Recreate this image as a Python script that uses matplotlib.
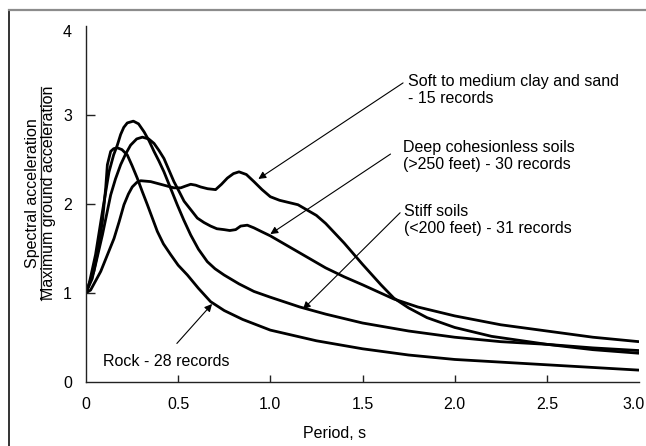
import matplotlib.pyplot as plt
from matplotlib.lines import Line2D
from matplotlib.transforms import ScaledTranslation

plt.rcParams['font.family'] = ['Liberation Sans', 'DejaVu Sans']

# Spectral shape curves (period in s, Sa / PGA)
rock_x = [0, 0.034, 0.061, 0.089, 0.107, 0.116, 0.134, 0.15, 0.17, 0.195, 0.224, 0.25,
          0.278, 0.305, 0.333, 0.36, 0.387, 0.42, 0.459, 0.5, 0.55, 0.61, 0.676, 0.75,
          0.85, 1.0, 1.25, 1.5, 1.75, 2.0, 2.25, 2.5, 2.75, 3.0]
rock_y = [1.0, 1.16, 1.43, 1.80, 2.18, 2.44, 2.59, 2.62, 2.63, 2.61, 2.55, 2.43,
          2.29, 2.14, 1.99, 1.84, 1.69, 1.55, 1.43, 1.31, 1.20, 1.05, 0.90, 0.80,
          0.70, 0.58, 0.46, 0.37, 0.30, 0.25, 0.22, 0.19, 0.16, 0.13]

stiff_x = [0, 0.016, 0.052, 0.089, 0.125, 0.15, 0.17, 0.188, 0.205, 0.224, 0.257, 0.285,
           0.315, 0.342, 0.369, 0.396, 0.423, 0.46, 0.495, 0.53, 0.568, 0.61, 0.658, 0.7,
           0.749, 0.83, 0.911, 1.0, 1.16, 1.3, 1.5, 1.75, 2.0, 2.25, 2.5, 2.75, 3.0]
stiff_y = [1.0, 1.09, 1.43, 1.91, 2.36, 2.55, 2.66, 2.78, 2.86, 2.91, 2.93, 2.90,
           2.81, 2.71, 2.59, 2.48, 2.36, 2.17, 1.99, 1.82, 1.65, 1.49, 1.35, 1.27,
           1.20, 1.10, 1.015, 0.95, 0.84, 0.76, 0.66, 0.57, 0.50, 0.45, 0.42, 0.38, 0.35]

deep_x = [0, 0.007, 0.043, 0.089, 0.134, 0.16, 0.188, 0.215, 0.242, 0.275, 0.306, 0.34,
          0.369, 0.396, 0.423, 0.45, 0.477, 0.505, 0.532, 0.57, 0.604, 0.64, 0.676, 0.71,
          0.749, 0.78, 0.812, 0.839, 0.875, 0.911, 0.95, 1.0, 1.1, 1.2, 1.3, 1.4, 1.5,
          1.67, 1.8, 2.0, 2.25, 2.5, 2.75, 3.0]
deep_y = [1.0, 1.05, 1.24, 1.65, 2.10, 2.28, 2.44, 2.56, 2.66, 2.73, 2.75, 2.73,
          2.68, 2.60, 2.51, 2.38, 2.25, 2.14, 2.03, 1.93, 1.84, 1.79, 1.75, 1.72,
          1.71, 1.70, 1.71, 1.75, 1.76, 1.73, 1.69, 1.64, 1.52, 1.40, 1.28, 1.18, 1.09,
          0.93, 0.84, 0.74, 0.64, 0.57, 0.50, 0.45]

clay_x = [0, 0.025, 0.08, 0.115, 0.152, 0.18, 0.206, 0.23, 0.251, 0.275, 0.297, 0.351,
          0.423, 0.477, 0.514, 0.54, 0.568, 0.595, 0.622, 0.66, 0.703, 0.735, 0.767, 0.8,
          0.83, 0.87, 0.911, 0.955, 1.0, 1.05, 1.09, 1.15, 1.2, 1.25, 1.3, 1.4, 1.5, 1.6,
          1.67, 1.75, 1.85, 2.0, 2.2, 2.5, 2.75, 3.0]
clay_y = [1.0, 1.03, 1.24, 1.42, 1.61, 1.80, 1.99, 2.11, 2.19, 2.24, 2.26, 2.25,
          2.21, 2.18, 2.18, 2.20, 2.22, 2.21, 2.19, 2.17, 2.16, 2.22, 2.29, 2.34,
          2.36, 2.33, 2.25, 2.16, 2.08, 2.04, 2.02, 1.99, 1.93, 1.87, 1.78, 1.56, 1.32, 1.09,
          0.94, 0.83, 0.72, 0.61, 0.51, 0.42, 0.36, 0.32]

x_ticks = [0, 0.5, 1.0, 1.5, 2.0, 2.5, 3.0]
x_labels = ['0', '0.5', '1.0', '1.5', '2.0', '2.5', '3.0']
y_ticks = [0, 1, 2, 3, 4]

fig = plt.figure(figsize=(6.46, 4.46), dpi=100)
ax = fig.add_axes([0.1331, 0.1442, 0.8561, 0.7975])

for xs, ys in [(rock_x, rock_y), (stiff_x, stiff_y), (deep_x, deep_y), (clay_x, clay_y)]:
    ax.plot(xs, ys, color='black', lw=2.0, solid_joinstyle='round', solid_capstyle='butt')

ax.set_xlim(0, 3.0)
ax.set_ylim(0, 4)
ax.spines['top'].set_visible(False)
ax.spines['right'].set_visible(False)
for s in ['left', 'bottom']:
    ax.spines[s].set_linewidth(1.0)
    ax.spines[s].set_color('#222222')

ax.set_xticks(x_ticks)
ax.set_xticklabels(x_labels)
ax.set_yticks(y_ticks)
ax.tick_params(axis='x', direction='in', length=5, width=1.0, color='#222222',
               pad=11, labelsize=11.5)
ax.tick_params(axis='y', direction='in', length=6.5, width=1.0, color='#222222',
               pad=10, labelsize=11.5)
# no tick marks at the ends of the axes
for t in [ax.xaxis.get_major_ticks()[0], ax.xaxis.get_major_ticks()[-1],
          ax.yaxis.get_major_ticks()[0], ax.yaxis.get_major_ticks()[-1]]:
    t.tick1line.set_visible(False)
last = ax.get_xticklabels()[-1]
last.set_transform(last.get_transform() + ScaledTranslation(-0.05, 0, fig.dpi_scale_trans))
top = ax.get_yticklabels()[-1]
top.set_transform(top.get_transform() + ScaledTranslation(0, -0.05, fig.dpi_scale_trans))

ax.text(1.35, -0.58, 'Period, s', ha='center', va='center', fontsize=11.5)

# y label drawn as a fraction (baselines placed by hand)
fig.text(37.5 / 646, 1 - 193 / 446, 'Spectral acceleration', rotation=90,
         rotation_mode='anchor', ha='center', va='baseline', fontsize=11.5)
fig.text(53.5 / 646, 1 - 193 / 446, 'Maximum ground acceleration', rotation=90,
         rotation_mode='anchor', ha='center', va='baseline', fontsize=11.5)
fig.add_artist(Line2D([41 / 646, 41 / 646], [1 - 87 / 446, 1 - 300 / 446],
                      transform=fig.transFigure, color='#222222', lw=0.9))

# annotations
arrow = dict(arrowstyle='-|>', color='black', lw=0.8, mutation_scale=11,
             shrinkA=0, shrinkB=0)
ax.annotate('', xy=(0.935, 2.28), xytext=(1.72, 3.36), arrowprops=arrow)
ax.annotate('', xy=(1.0, 1.66), xytext=(1.652, 2.56), arrowprops=arrow)
ax.annotate('', xy=(1.177, 0.815), xytext=(1.704, 1.90), arrowprops=arrow)
ax.annotate('', xy=(0.684, 0.874), xytext=(0.493, 0.43), arrowprops=arrow)

ax.text(1.747, 3.28, 'Soft to medium clay and sand\n- 15 records', ha='left', va='center',
        fontsize=11.5, linespacing=1.15)
ax.text(1.72, 2.54, 'Deep cohesionless soils\n(>250 feet) - 30 records', ha='left',
        va='center', fontsize=11.5, linespacing=1.15)
ax.text(1.725, 1.82, 'Stiff soils\n(<200 feet) - 31 records', ha='left', va='center',
        fontsize=11.5, linespacing=1.15)
ax.text(0.092, 0.225, 'Rock - 28 records', ha='left', va='center', fontsize=11.5)

# frame around the picture (left and top edges)
fig.add_artist(Line2D([9 / 646, 9 / 646], [0, 1 - 10 / 446], transform=fig.transFigure,
                      color='#111111', lw=1.2))
fig.add_artist(Line2D([9 / 646, 1], [1 - 10 / 446, 1 - 10 / 446], transform=fig.transFigure,
                      color='#8c8c8c', lw=1.6))

fig.savefig('out.png', dpi=100)
